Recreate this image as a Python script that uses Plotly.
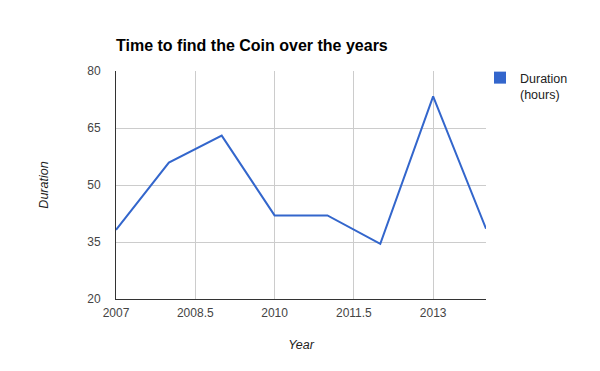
import plotly.graph_objects as go

years = [2007, 2008, 2009, 2010, 2011, 2012, 2013, 2014]
duration = [38.2, 55.9, 63.0, 42.0, 42.0, 34.5, 73.3, 38.5]
x_ticks = [2007, 2008.5, 2010, 2011.5, 2013]
y_ticks = [20, 35, 50, 65, 80]

W, H = 600, 371
L, R, T, B = 116, 114, 71, 72
FONT = "Arial, Liberation Sans, sans-serif"
BLUE = "#3366cc"

fig = go.Figure()
fig.add_trace(go.Scatter(
    x=years, y=duration, mode="lines",
    line=dict(color=BLUE, width=2),
    showlegend=False, hoverinfo="x+y",
))
fig.add_trace(go.Scatter(
    x=[None], y=[None], mode="markers",
    marker=dict(symbol="square", size=12, color=BLUE),
    name="Duration<br>(hours)",
))

PW, PH = W - L - R, H - T - B

fig.update_layout(
    width=W, height=H,
    margin=dict(l=L, r=R, t=T, b=B),
    paper_bgcolor="white", plot_bgcolor="white",
    font=dict(family=FONT, size=12, color="#444444"),
    title=dict(
        text="<b>Time to find the Coin over the years</b>",
        font=dict(family=FONT, size=16, color="#000000"),
        x=L / W, xanchor="left", xref="container",
        y=1 - 45 / H, yanchor="middle", yref="container",
    ),
    legend=dict(
        x=(480 - L) / PW, xanchor="left",
        y=1.0 + 8 / PH, yanchor="top",
        valign="top",
        font=dict(family=FONT, size=12.5, color="#222222"),
        bgcolor="rgba(0,0,0,0)",
        borderwidth=0,
        tracegroupgap=0,
    ),
    xaxis=dict(
        range=[2007, 2014],
        tickmode="array", tickvals=x_ticks,
        ticktext=[str(v) for v in x_ticks],
        showgrid=True, gridcolor="#cccccc", gridwidth=1,
        zeroline=False,
        showline=True, linecolor="#333333", linewidth=1,
        ticks="", ticklabelstandoff=3,
        tickfont=dict(family=FONT, size=12, color="#444444"),
        title=dict(text="<i>Year</i>", font=dict(family=FONT, size=12.5, color="#222222"), standoff=20),
    ),
    yaxis=dict(
        range=[20, 80],
        tickmode="array", tickvals=y_ticks,
        ticktext=[str(v) for v in y_ticks],
        showgrid=True, gridcolor="#cccccc", gridwidth=1,
        zeroline=False,
        showline=True, linecolor="#333333", linewidth=1,
        ticks="", ticklabelstandoff=12,
        tickfont=dict(family=FONT, size=12, color="#444444"),
        title=dict(text="<i>Duration</i>", font=dict(family=FONT, size=12.5, color="#222222"), standoff=35),
    ),
)

fig.write_html("out.html")
